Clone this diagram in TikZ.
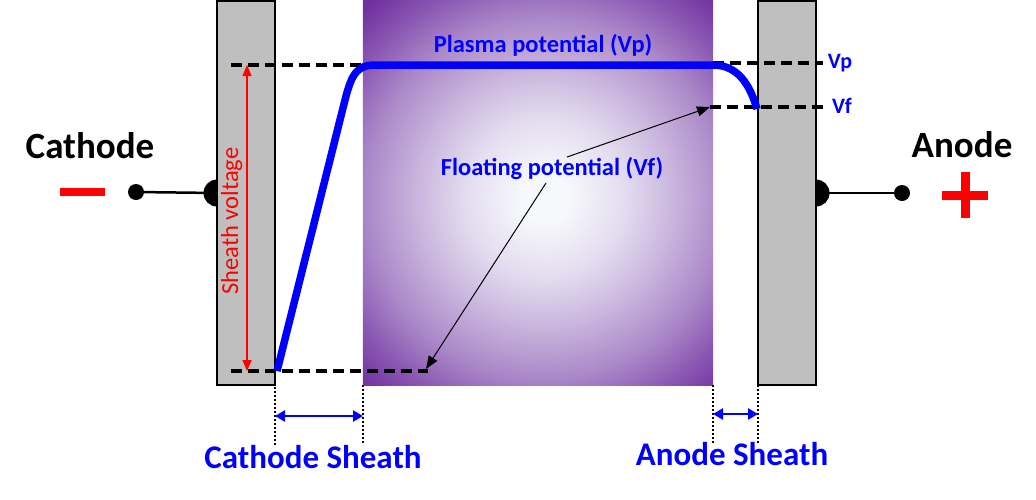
\documentclass[tikz,border=0pt]{standalone}
\usepackage{fontspec}
\setmainfont{Carlito}
\usetikzlibrary{arrows.meta}
\definecolor{purpleC}{HTML}{7030A0}
\definecolor{greyE}{HTML}{BFBFBF}
\definecolor{blueC}{HTML}{0000FF}
\definecolor{redC}{HTML}{FF0000}
\definecolor{coreC}{HTML}{F6F8FC}
\colorlet{shA}{purpleC!14!coreC}
\colorlet{shB}{purpleC!34!coreC}
\colorlet{shC}{purpleC!56!coreC}
\colorlet{shD}{purpleC!80!coreC}
\pgfdeclareradialshading{plasmashade}{\pgfpoint{0pt}{0pt}}{color(0pt)=(coreC); color(25pt)=(coreC); color(80pt)=(shA); color(130pt)=(shB); color(180pt)=(shC); color(222pt)=(shD); color(262pt)=(purpleC); color(280pt)=(purpleC)}
\tikzset{
  electrode/.style={draw=black, line width=2.5pt, fill=greyE, minimum width=58pt, minimum height=384pt, inner sep=0pt},
  plasmabox/.style={minimum width=350pt, minimum height=384pt, inner sep=0pt},
  dotend/.style={circle, fill=black, minimum size=16pt, inner sep=0pt},
  bump/.style={circle, fill=black, minimum size=27pt, inner sep=0pt},
  wire/.style={line width=2.5pt},
  potdash/.style={line width=3.5pt, dash pattern=on 11pt off 6pt},
  curve/.style={blueC, line width=7.5pt},
  pointer/.style={line width=1pt, -{Triangle[length=13pt,width=10pt]}},
  sheatharrow/.style={blueC, line width=2.5pt, {Triangle[length=10pt,width=11pt]}-{Triangle[length=10pt,width=11pt]}},
  edgeline/.style={line width=1.5pt, dash pattern=on 2pt off 2pt},
  bigtxt/.style={font=\bfseries\fontsize{37}{40}\selectfont, inner sep=0pt, anchor=base},
  sheathtxt/.style={font=\bfseries\fontsize{33}{36}\selectfont, text=blueC, inner sep=0pt, anchor=base},
  pottxt/.style={font=\bfseries\fontsize{24.5}{27}\selectfont, text=blueC, inner sep=0pt, anchor=base},
  smalltxt/.style={font=\bfseries\fontsize{22}{24}\selectfont, text=blueC, inner sep=0pt, anchor=base}
}
\begin{document}
\begin{tikzpicture}[x=1pt,y=-1pt]
\useasboundingbox (0,0) rectangle (1036,499);
% plasma
\node[plasmabox] (plasma) at (538,193) {};
\begin{scope}
\clip (plasma.north west) rectangle (plasma.south east);
\path (545,198) node[inner sep=0pt] (glow) {\pgfuseshading{plasmashade}};
\end{scope}
% wires and bumps
\node[bump] (bumpL) at (217,193) {};
\node[bump] (bumpR) at (816,193) {};
\node[dotend] (dotL) at (136,192) {};
\node[dotend] (dotR) at (902,193) {};
\draw[wire] (dotL.center) -- (bumpL.center);
\draw[wire] (bumpR.center) -- (dotR.center);
% electrodes
\node[electrode] (cath) at (246,193) {};
\node[electrode] (anod) at (787,193) {};
% signs
\node[fill=redC, minimum width=45pt, minimum height=8pt, inner sep=0pt] (minus) at (82,192) {};
\draw[redC, line width=9pt] (942,195) -- (988,195) (965,172) -- (965,218);
% dashed potential levels
\coordinate (vpLa) at (231,65);
\coordinate (vpLb) at (363,65);
\coordinate (vfLa) at (231,371);
\coordinate (vfLb) at (428,371);
\coordinate (vpRa) at (713,63);
\coordinate (vpRb) at (823,63);
\coordinate (vfRa) at (710,107);
\coordinate (vfRb) at (823,107);
\draw[potdash] (vpLa) -- (vpLb);
\draw[potdash] (vfLa) -- (vfLb);
\draw[potdash] (vpRa) -- (vpRb);
\draw[potdash] (vfRa) -- (vfRb);
% potential curve
\draw[curve] (277,371) -- (345,100) .. controls (352,72) and (358,65) .. (376,65) -- (713,65) .. controls (738,65) and (750,85) .. (757,109);
% sheath voltage
\coordinate (svTop) at (247,65);
\coordinate (svBot) at (247,371);
\draw[redC, line width=1.3pt, {Triangle[length=11pt,width=9pt]}-{Triangle[length=11pt,width=9pt]}] (svTop) -- (svBot);
\node[font=\fontsize{24.5}{27}\selectfont, text=redC, inner sep=0pt, anchor=base, rotate=90] (svtxt) at (238,221) {Sheath voltage};
% labels
\node[bigtxt] (cathtxt) at (90,158) {Cathode};
\node[bigtxt] (anodtxt) at (962,157) {Anode};
\node[pottxt] (vptxt) at (543,52) {Plasma potential (Vp)};
\node[pottxt] (vftxt) at (552,175) {Floating potential (Vf)};
\node[smalltxt] (vplab) at (840,68) {Vp};
\node[smalltxt] (vflab) at (842,113) {Vf};
% pointers
\coordinate (pA) at (567,157);
\coordinate (pB) at (546,183);
\draw[pointer] (pA) -- (vfRa);
\draw[pointer] (pB) -- (426,369);
% sheath extents
\coordinate (e1a) at (275,387); \coordinate (e1b) at (275,445);
\coordinate (e2a) at (363,385); \coordinate (e2b) at (363,445);
\coordinate (e3a) at (713,385); \coordinate (e3b) at (713,444);
\coordinate (e4a) at (758,385); \coordinate (e4b) at (758,444);
\draw[edgeline] (e1a) -- (e1b);
\draw[edgeline] (e2a) -- (e2b);
\draw[edgeline] (e3a) -- (e3b);
\draw[edgeline] (e4a) -- (e4b);
\coordinate (s1a) at (275,416); \coordinate (s1b) at (363,416);
\coordinate (s2a) at (713,414); \coordinate (s2b) at (758,414);
\draw[sheatharrow] (s1a) -- (s1b);
\draw[sheatharrow] (s2a) -- (s2b);
\node[sheathtxt] (cstxt) at (313,468) {Cathode Sheath};
\node[sheathtxt] (astxt) at (732,465) {Anode Sheath};
\end{tikzpicture}
\end{document}
